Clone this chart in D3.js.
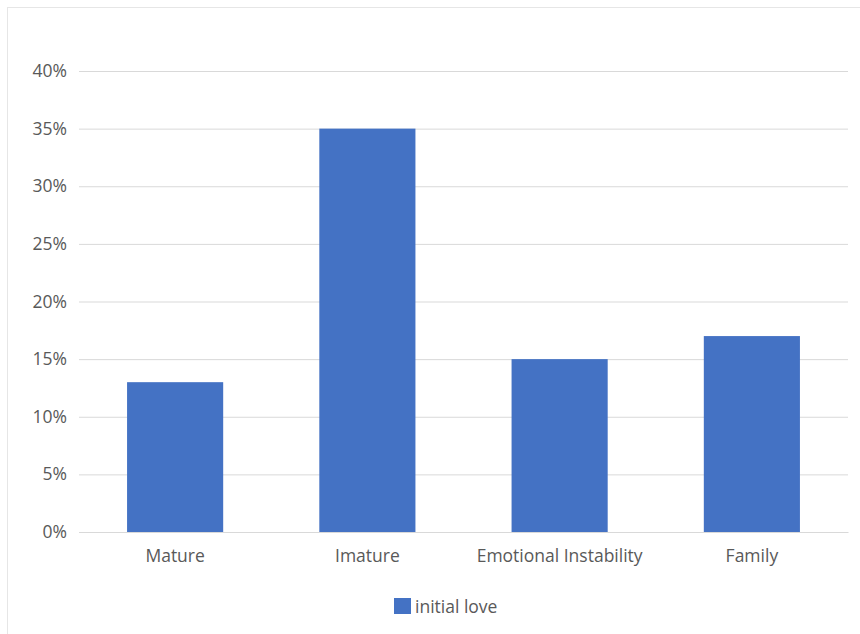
<!DOCTYPE html>
<html>
<head>
<meta charset="utf-8">
<script src="https://cdn.jsdelivr.net/npm/d3@7"></script>
<style>
  body { margin: 0; background: #fff; }
  svg text { font-family: "Open Sans", sans-serif; }
</style>
</head>
<body>
<div id="viscontainer"></div>
<script>
const categories = ["Mature", "Imature", "Emotional Instability", "Family"];
const values = [0.13, 0.35, 0.15, 0.17];
const seriesName = "initial love";
const yTicks = [0, 0.05, 0.10, 0.15, 0.20, 0.25, 0.30, 0.35, 0.40];

const width = 860;
const height = 634;
const margin = { top: 71, right: 12, bottom: 102, left: 79 };

const svg = d3.select("#viscontainer")
  .append("svg")
  .attr("width", width)
  .attr("height", height);

// faint chart frame
svg.append("rect")
  .attr("x", 7.5)
  .attr("y", 7.5)
  .attr("width", width + 20)
  .attr("height", height + 20)
  .attr("fill", "none")
  .attr("stroke", "#e6e6e6");

const x = d3.scaleBand()
  .domain(categories)
  .range([margin.left, width - margin.right])
  .paddingInner(0.5)
  .paddingOuter(0.25);

const y = d3.scaleLinear()
  .domain([0, 0.40])
  .range([height - margin.bottom, margin.top]);

const yAxis = svg.append("g")
  .attr("transform", `translate(${margin.left},0)`)
  .call(d3.axisLeft(y)
    .tickValues(yTicks)
    .tickFormat(d3.format(".0%"))
    .tickSize(-(width - margin.left - margin.right))
    .tickPadding(12));

yAxis.select(".domain").remove();
yAxis.selectAll(".tick line")
  .attr("stroke", "#d9d9d9")
  .attr("stroke-width", 1);
yAxis.selectAll(".tick text")
  .attr("fill", "#595959")
  .attr("font-size", 17.5);

svg.append("g")
  .selectAll("rect")
  .data(categories)
  .join("rect")
  .attr("x", d => x(d))
  .attr("width", x.bandwidth())
  .attr("y", (d, i) => y(values[i]))
  .attr("height", (d, i) => y(0) - y(values[i]))
  .attr("fill", "#4472c4");

const xAxis = svg.append("g")
  .attr("transform", `translate(0,${height - margin.bottom})`)
  .call(d3.axisBottom(x).tickSize(0).tickPadding(18));

xAxis.select(".domain").attr("stroke", "#d9d9d9");
xAxis.selectAll(".tick text")
  .attr("fill", "#595959")
  .attr("font-size", 17.5);

// legend
const legend = svg.append("g")
  .attr("transform", "translate(394,598)");

legend.append("rect")
  .attr("width", 17)
  .attr("height", 16)
  .attr("fill", "#4472c4");

legend.append("text")
  .attr("x", 21)
  .attr("y", 15)
  .attr("fill", "#595959")
  .attr("font-size", 17.5)
  .text(seriesName);
</script>
</body>
</html>
